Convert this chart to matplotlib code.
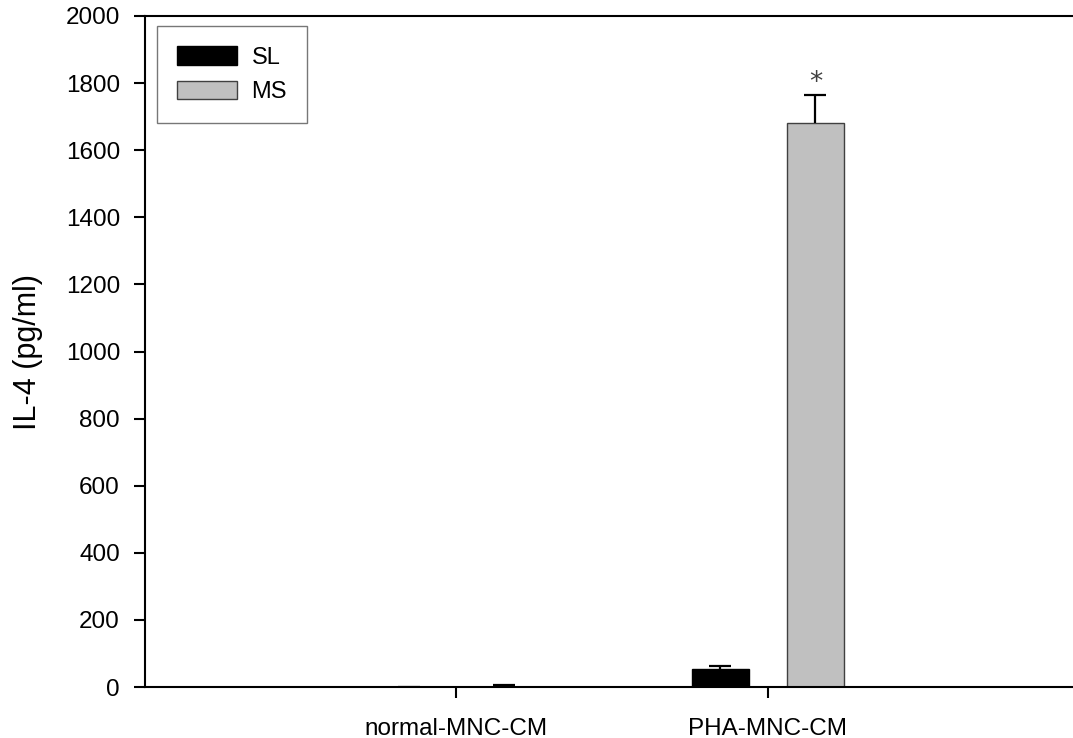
import numpy as np
import matplotlib.pyplot as plt

plt.rcParams['font.family'] = ['Liberation Sans', 'DejaVu Sans']

# data
groups = ['normal-MNC-CM', 'PHA-MNC-CM']
sl_mean = [0, 54]
sl_err = [0, 9]
ms_mean = [1, 1681]
ms_err = [4, 84]

fig = plt.figure(figsize=(10.73, 7.38), dpi=100)
ax = fig.add_axes([145 / 1073, 51 / 738, 928 / 1073, 671 / 738])

x = np.arange(len(groups))
w = 0.183
off = 0.153

ax.bar(x - off, sl_mean, w, color='black', edgecolor='black', linewidth=1, label='SL')
ax.bar(x + off, ms_mean, w, color='#c0c0c0', edgecolor='#404040', linewidth=1, label='MS')
for xs, m, e in [(x - off, sl_mean, sl_err), (x + off, ms_mean, ms_err)]:
    eb = ax.errorbar(xs, m, yerr=[np.zeros(2), e], fmt='none', ecolor='black',
                     elinewidth=1.6, capsize=8, capthick=1.6)
    eb[1][0].set_visible(False)  # only the upper cap

# significance marker
ax.text(x[1] + off, ms_mean[1] + ms_err[1] - 2, '*', ha='center', va='bottom',
        fontsize=19, color='#404040', family='DejaVu Sans')

ax.set_xlim(-1.0, 1.98)
ax.set_ylim(0, 2000)
ax.set_yticks(np.arange(0, 2001, 200))
ax.set_xticks(x)
ax.set_xticklabels(groups)
ax.set_ylabel('IL-4 (pg/ml)', fontsize=22, labelpad=16)

ax.spines['right'].set_visible(False)
for s in ['left', 'bottom', 'top']:
    ax.spines[s].set_linewidth(1.5)
ax.tick_params(axis='both', direction='out', length=8, width=1.5, labelsize=17.5)
ax.tick_params(axis='x', pad=14)
ax.tick_params(axis='y', pad=10)

leg = ax.legend(loc='upper left', bbox_to_anchor=(0.0129, 0.985), fontsize=17,
                frameon=True, fancybox=False, edgecolor='#555555',
                handlelength=2.55, handleheight=0.85, handletextpad=0.6,
                borderpad=0.85, labelspacing=0.5, borderaxespad=0)
leg.get_frame().set_linewidth(1)

fig.savefig('out.png', dpi=100)
